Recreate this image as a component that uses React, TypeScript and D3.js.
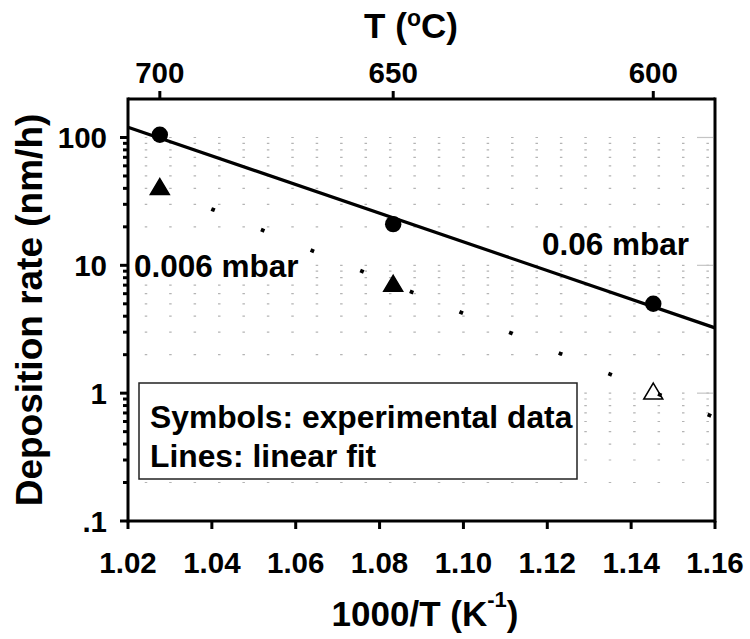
import React from 'react'
import * as d3 from 'd3'

// deposition rate vs inverse temperature, two pressures
const tempsC = [700, 650, 600]
const rateHigh = [105, 21, 5.0] // 0.06 mbar
const rateLow = [40.6, 7.1, 1.02] // 0.006 mbar
const lowOpen = [false, false, true]
const xTicks = [1.02, 1.04, 1.06, 1.08, 1.1, 1.12, 1.14, 1.16]
const yMajor = [0.1, 1, 10, 100]
const yLabels = ['.1', '1', '10', '100']
const topTicksC = [700, 650, 600]

const W = 750
const H = 639
const left = 128
const right = 715
const top = 99
const bottom = 521
const font = '"Liberation Sans", Arial, Helvetica, sans-serif'

const invT = (c: number) => 1000 / (c + 273.15)

// least squares on log10(rate)
function logFit(xs: number[], ys: number[]) {
  const ly = ys.map((v) => Math.log10(v))
  const mx = d3.mean(xs) as number
  const my = d3.mean(ly) as number
  let sxy = 0
  let sxx = 0
  xs.forEach((x, i) => {
    sxy += (x - mx) * (ly[i] - my)
    sxx += (x - mx) * (x - mx)
  })
  const b = sxy / sxx
  return (x: number) => Math.pow(10, my + b * (x - mx))
}

export default function App() {
  const x = d3.scaleLinear().domain([1.02, 1.16]).range([left, right])
  const y = d3.scaleLog().domain([0.1, 200]).range([bottom, top])

  const xs = tempsC.map(invT)
  const fitHigh = logFit(xs, rateHigh)
  const fitLow = logFit(xs, rateLow)

  const line = d3
    .line<number>()
    .x((d) => x(d))
    .y((d) => y(fitHigh(d)))
  const lineLow = d3
    .line<number>()
    .x((d) => x(d))
    .y((d) => y(fitLow(d)))
  const ends = x.domain()

  const allTicks = y.ticks().filter((v) => v <= 100.0001)
  const minor = allTicks.filter((v) => !yMajor.some((m) => Math.abs(m - v) < 1e-9))
  const grid = allTicks.filter((v) => v > 0.10001)

  const tri = (cx: number, cy: number) =>
    `M${cx},${cy - 9}L${cx + 9.5},${cy + 7}L${cx - 9.5},${cy + 7}Z`

  return (
    <svg
      width={W}
      height={H}
      style={{ position: 'absolute', left: 0, top: 0, background: '#fff' }}
      fontFamily={font}
      fontWeight="bold"
    >
      {/* dotted horizontal grid */}
      <g stroke="#b4b4b4" strokeWidth={1.2} strokeDasharray="2.5 21.92" strokeDashoffset={7.67}>
        {grid.map((v) => (
          <line key={v} x1={left} x2={right} y1={y(v)} y2={y(v)} />
        ))}
      </g>
      <g stroke="#c4c4c4" strokeWidth={1.2}>
        {yMajor.slice(1).map((v) => (
          <line key={v} x1={right - 18} x2={right - 2} y1={y(v)} y2={y(v)} />
        ))}
      </g>

      {/* legend box */}
      <rect x={139} y={383} width={438} height={96} fill="#fff" stroke="#222" strokeWidth={1.5} />
      <text x={150} y={428} fontSize={31.8}>Symbols: experimental data</text>
      <text x={150} y={467} fontSize={31.8}>Lines: linear fit</text>

      {/* markers */}
      {xs.map((xv, i) => (
        <circle key={'c' + i} cx={x(xv)} cy={y(rateHigh[i])} r={8.2} fill="#000" />
      ))}
      {xs.map((xv, i) => (
        <path
          key={'t' + i}
          d={tri(x(xv), y(rateLow[i]))}
          fill={lowOpen[i] ? '#fff' : '#000'}
          stroke="#000"
          strokeWidth={1.5}
        />
      ))}

      {/* fits */}
      <path d={line(ends) || ''} fill="none" stroke="#000" strokeWidth={3.2} />
      <path
        d={lineLow(ends) || ''}
        fill="none"
        stroke="#000"
        strokeWidth={3.8}
        strokeLinecap="square"
        strokeDasharray="0.01 53.72"
        strokeDashoffset={15.39}
      />

      {/* frame */}
      <g stroke="#000" strokeWidth={3} fill="none">
        <line x1={left} x2={right} y1={bottom} y2={bottom} />
        <line x1={left} x2={right} y1={top} y2={top} />
        <line x1={left} x2={left} y1={top - 1.5} y2={bottom + 1.5} />
        <line x1={right} x2={right} y1={top - 1.5} y2={bottom + 1.5} />
        {xTicks.map((t) => (
          <line key={t} x1={x(t)} x2={x(t)} y1={bottom} y2={bottom + 8} />
        ))}
        {topTicksC.map((t) => (
          <line key={t} x1={x(invT(t))} x2={x(invT(t))} y1={top} y2={top - 8} />
        ))}
        {yMajor.map((v) => (
          <line key={v} x1={left} x2={left - 8} y1={y(v)} y2={y(v)} />
        ))}
        {minor.map((v) => (
          <line key={v} x1={left} x2={left - 5} y1={y(v)} y2={y(v)} />
        ))}
      </g>

      {/* tick labels */}
      <g fontSize={29.5} fill="#000">
        {xTicks.map((t) => (
          <text key={t} x={x(t)} y={573} textAnchor="middle">
            {d3.format('.2f')(t)}
          </text>
        ))}
        {topTicksC.map((t) => (
          <text key={t} x={x(invT(t))} y={83} textAnchor="middle">
            {t}
          </text>
        ))}
        {yMajor.map((v, i) => (
          <text key={v} x={107} y={y(v) + 10.5} textAnchor="end">
            {yLabels[i]}
          </text>
        ))}
      </g>

      {/* series labels */}
      <rect x={133} y={252} width={170} height={27} fill="#fff" />
      <text x={134} y={277} fontSize={31.5}>0.006 mbar</text>
      <text x={542} y={255} fontSize={31.5}>0.06 mbar</text>

      {/* axis titles */}
      <text x={425} y={626} fontSize={35} textAnchor="middle">
        1000/T (K<tspan fontSize={22} dy={-19}>-1</tspan>
        <tspan dy={19}>)</tspan>
      </text>
      <text x={411} y={38} fontSize={35} textAnchor="middle">
        T (<tspan fontSize={23} dy={-12}>o</tspan>
        <tspan dy={12}>C)</tspan>
      </text>
      <text transform="translate(42,310) rotate(-90)" fontSize={37} textAnchor="middle">
        Deposition rate (nm/h)
      </text>
    </svg>
  )
}
